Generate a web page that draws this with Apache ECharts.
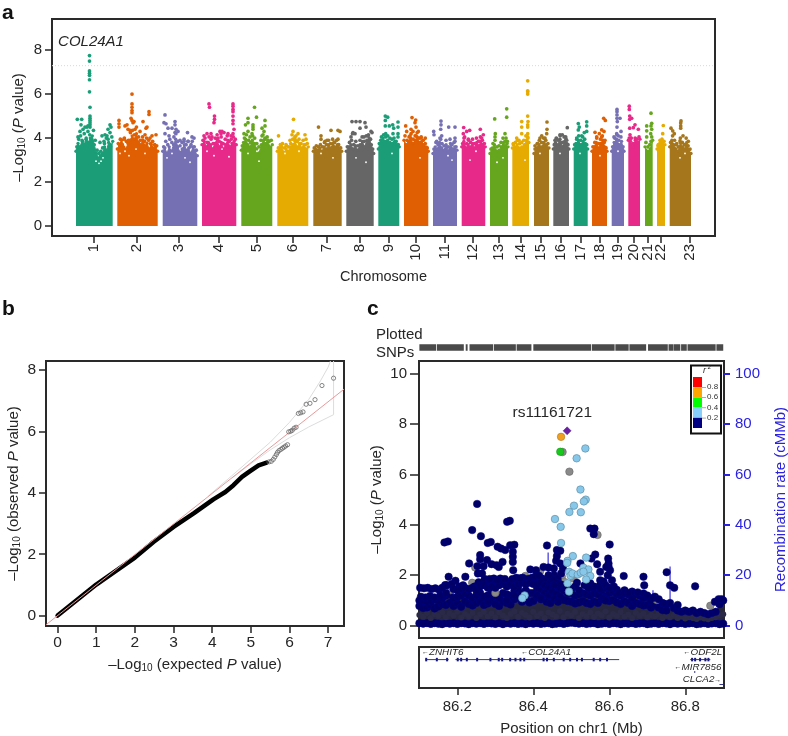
<!DOCTYPE html>
<html><head><meta charset="utf-8">
<style>html,body{margin:0;padding:0;background:#fff}#c{width:788px;height:736px}</style>
<script src="https://cdn.jsdelivr.net/npm/echarts@6/dist/echarts.min.js"></script></head>
<body><div id="c"></div>
<script>
const FONT='"Liberation Sans",Arial,sans-serif', INK='#262626', BLUE='#2a22e0';
/* ---------- panel a: Manhattan ---------- */
const chrNames=['1','2','3','4','5','6','7','8','9','10','11','12','13','14','15','16','17','18','19','20','21','22','23'];
const chrTicks=[94,137,179,219,257,293,327,360,389,416,445,473,499,521,541,561,581,600,618,634,648,661,690];
const chrStart=[76,117.3,162.7,202,241.3,277.3,313.3,346.3,378.3,404,433,461.7,490,512.3,534,553.3,573.7,592,611.7,628.3,645,657,669.7];
const chrEnd=[112.7,157.7,197.3,236.3,272.3,308.3,341.7,373.7,399.3,428.3,457,485.3,508,529,549,569,587.7,607,624,640,652.7,665,691];
const chrColors=['#1B9E77','#DF5F02','#7570B3','#E7298A','#66A61E','#E6AB02','#A6761D','#666666'];
const chrTops=[
[3.4,3.75,3.6,3.9,3.7,4.0,3.8,4.0,4.1,3.7,3.3,3.1,3.2,3.3,3.6,3.45,3.8,3.6,3.85],
[3.5,3.7,3.9,3.6,3.5,3.75,3.9,4.1,3.95,4.2,3.8,3.7,3.9,3.65,3.75,3.5,3.7,3.55,3.6,3.4],
[3.4,3.55,3.3,3.6,3.4,3.7,3.95,3.6,3.35,3.5,3.7,3.45,3.55,3.3,3.6,3.4,3.2],
[3.7,3.85,3.6,3.8,3.7,3.5,3.75,3.95,3.6,3.8,3.5,3.7,3.9,3.6,3.75,3.85,3.7],
[3.45,3.8,3.95,3.7,3.6,3.9,3.75,3.5,3.3,3.7,3.9,3.75,3.85,3.6,3.7],
[3.4,3.55,3.6,3.35,3.5,3.4,3.6,3.7,3.85,3.6,3.75,3.55,3.7,3.5,3.6],
[3.4,3.5,3.45,3.55,3.4,3.6,3.5,3.7,3.55,3.75,3.6,3.7,3.55,3.4],
[3.4,3.6,3.7,3.5,3.65,3.45,3.7,3.85,3.6,3.9,4.0,3.7,3.3],
[3.5,3.9,4.0,3.85,3.9,3.8,3.75,3.85,3.7,3.6],
[3.9,3.7,3.85,4.0,3.75,3.9,4.05,3.8,3.85,3.7,3.6,3.4],
[3.3,3.6,3.5,3.8,3.55,3.45,3.7,3.4,3.75,3.5,3.6,3.45],
[3.6,3.85,3.55,3.7,3.6,3.75,3.55,3.8,3.65,3.85,3.7,3.6],
[3.3,3.55,3.7,3.4,3.45,3.6,3.8,3.65,3.6],
[3.55,3.6,3.7,3.55,3.6,3.7,3.9,3.8],
[3.3,3.55,3.7,3.6,3.8,3.7,3.55],
[3.5,3.8,3.7,3.95,3.6,3.85,3.75,3.5],
[3.5,3.75,3.9,3.7,3.85,3.75,3.5],
[3.4,3.6,3.8,3.55,3.75,3.9,3.6,3.4],
[3.4,3.8,3.95,3.7,3.85,3.4],
[3.9,3.85,3.6,3.9,3.8,3.95],
[3.6,3.4,3.5,3.9],
[3.5,3.75,3.8,3.7],
[3.6,3.9,3.7,3.5,3.4,3.8,3.6,3.5,3.8,3.45,3.3]];
const chrFringe=[
[3.6,3.95,4.1,3.85,4.2,3.95,4.3,4.15,3.85,4.35,3.9,3.45,3.3,3.4,3.55,3.75,4,3.95,3.7,4.05],
[3.75,3.95,3.7,4,3.85,3.9,4.25,4.35,4.15,4.5,4.05,3.9,4.05,3.85,4,3.9,3.75,3.85,3.7,3.65],
[3.6,3.85,3.7,3.95,3.8,4.05,4.2,3.85,3.65,3.8,3.95,3.7,3.85,3.6,3.85,3.6,3.45],
[3.9,4,3.8,4.05,3.95,3.75,4,4.15,3.85,4.05,3.75,3.95,4.1,3.85,3.95,4.05,3.95],
[3.65,4,4.15,3.9,3.8,4.1,4,3.75,3.6,3.9,4.15,3.95,4.05,3.85,3.9],
[3.55,3.7,3.75,3.55,3.65,3.6,3.75,3.95,4.05,3.85,3.95,3.75,3.9,3.7,3.75],
[3.55,3.65,3.6,3.7,3.6,3.8,3.7,3.9,3.75,3.95,3.8,3.9,3.7,3.55],
[3.6,3.8,3.9,3.7,3.85,3.65,3.9,4.05,3.85,4.1,4.15,3.95,3.5],
[3.75,4.05,4.15,4.05,4.1,4,3.95,4,3.85,3.7],
[4.1,3.9,4.05,4.2,3.95,4.1,4.25,4,4.05,3.9,3.75,3.55],
[3.5,3.8,3.7,4,3.75,3.65,3.9,3.6,3.95,3.7,3.8,3.6],
[3.75,4.05,3.75,3.9,3.8,3.95,3.75,4,3.85,4.05,3.9,3.75],
[3.5,3.75,3.9,3.6,3.65,3.8,4,3.85,3.75],
[3.7,3.8,3.9,3.75,3.8,3.9,4.1,4],
[3.5,3.75,3.9,3.8,4,3.9,3.75],
[3.7,4,3.9,4.1,3.8,4.05,3.95,3.7],
[3.7,3.95,4.1,3.9,4.05,3.95,3.7],
[3.6,3.8,4,3.75,3.95,4.1,3.8,3.55],
[3.6,4,4.15,3.9,4.05,3.6],
[4,4,3.75,4,3.95,4.05],
[3.8,3.6,3.7,4.05],
[3.65,3.9,3.95,3.85],
[3.8,4.1,3.9,3.7,3.6,4,3.8,3.7,4,3.65,3.5]];
const chrHits=[
[[89.5,7.75],[89.5,7.5],[89.5,7.05],[89.5,6.95],[89.5,6.85],[89.5,6.65],[89.5,6.1],[90,5.4],[90,5],[90,4.9],[90,4.8],[90,4.7],[90,4.6],[90,4.5],[77.3,4.85],[81.7,4.85],[81,4.6],[78,4.05],[80,4.3],[83,4.4],[85,4.5],[87,4.5],[88,4.55],[110,4.6],[111,4.5],[108,4.4],[110,4.25],[102,4.1],[105,4.15],[107,4.1],[100,3.8],[104,3.85]],
[[132,6],[132,5.55],[132,5.4],[132,5.25],[132,5.15],[149,5.2],[149,5.07],[119,4.8],[119,4.65],[119,4.5],[125,4.55],[128,4.4],[131,4.9],[132,4.8],[133,4.7],[134,4.75],[143,4.75],[146,4.45],[147,4.5],[140,4.3],[127,4.6],[124,3.95],[145,4.15],[152,4.1],[156,4.15],[150,4],[135,4.4],[130,4.35]],
[[165,5.05],[164,4.7],[166,4.65],[175,4.75],[175,4.6],[168,4.45],[172,4.45],[176,4.4],[165,4.2],[169,4.1],[175,4.25],[178,4.3],[187.5,4.25],[192,4.05],[194,4],[180,3.9],[184,3.85],[188,3.85],[191,3.7]],
[[209,5.55],[209.5,5.4],[214.5,5],[214.5,4.85],[214,4.7],[233,5.55],[233,5.45],[233,5.3],[233,5.2],[233,5],[233,4.8],[233,4.65],[234,4.4],[233,4.2],[204,4.1],[207,4.2],[211,4.2],[220,4.3],[222,4.3],[221,4.2],[224,4.25],[228,4.2],[231,4.1],[218,4],[212,4.05]],
[[254.5,5.4],[248,4.9],[256.5,4.95],[245.5,4.6],[248,4.7],[253,4.6],[253,4.5],[253,4.4],[265,4.8],[265,4.55],[264,4.3],[262,4.45],[244,4.2],[248,4.3],[252,4.2],[262,4.1],[265,4],[250,4.05],[268,3.9]],
[[293.5,4.85],[278.5,4.1],[290,3.9],[293,4.3],[292,4.15],[296,4.1],[298,4.2],[305,4.15],[306,3.95],[295,3.95],[297,3.85],[286,3.7],[281,3.65]],
[[318.5,4.5],[331,4.35],[338,4.35],[340,4.3],[321,4.1],[321,3.95],[327,3.9],[325,3.85],[334,3.8],[338,3.95]],
[[352,4.75],[356,4.75],[360,4.75],[365,4.7],[352.5,4.2],[355,4.2],[360,4.45],[366,4.5],[371,4.3],[351,4.05],[353,4.25],[364,4.05],[368,4.1],[372,4.25]],
[[385.3,5],[387.7,4.95],[385.3,4.8],[392.7,4.6],[398,4.73],[398,4.5],[385.3,4.55],[389.3,4.55],[393.7,4.45],[385.7,4.2],[393,4.2],[398,4.2],[398,4.05]],
[[412,4.93],[415.7,4.82],[415,4.7],[416,4.5],[405.7,4.55],[406.7,4.3],[411,4.4],[413,4.3],[418.3,4.3],[425.3,4],[410,4.1],[416,4.1],[421,4]],
[[441,4.77],[441,4.6],[440.7,4.4],[448.7,4.5],[455,4.5],[433.7,4.3],[434,4.15],[441.7,4.1],[440.7,3.95],[455,4],[455,3.85],[436.7,3.85]],
[[463.7,4.48],[469.7,4.35],[466.7,4.3],[480.3,4.4],[463.3,4.2],[464,4],[483.3,4.15],[481.7,4],[479.3,3.85],[468.3,3.95]],
[[506.7,5.33],[506.7,4.95],[494.7,4.87],[495.3,4.2],[495,4.05],[505,4.2],[506,4],[507.3,3.85]],
[[527.7,6.6],[527.7,6.15],[527.7,6.1],[527.7,6],[527.7,5],[521.7,4.75],[528,4.75],[527.7,4.6],[527.7,4.5],[521.7,4.5],[521.7,4.2],[527.7,4.2],[527.7,4.05],[516.7,4],[513.3,3.75],[519,3.9],[526.7,3.9]],
[[547,4.73],[547,4.4],[546.7,4.2],[540,4],[537.7,3.75],[535,3.65],[545,4],[541.7,4.1]],
[[567.3,4.47],[565.7,4.05],[560,4.15],[556.7,3.98],[555,3.9],[566.7,3.9],[562.3,4.15]],
[[586.7,4.74],[586.7,4.55],[578.3,4.66],[579.3,4.5],[578.3,4.37],[584.3,4.25],[586.7,4.3],[576.7,4],[581.7,4.1]],
[[603.7,4.9],[605.3,4.8],[595,4.26],[601.7,4.37],[604,4.3],[599.3,4.2],[596.7,4.05],[601.7,4.05],[605,3.9]],
[[617,5.3],[617,5.2],[617,5.05],[617,4.9],[617.3,4.75],[620,4.9],[621,4.3],[617,4.5],[614,4.05],[616.7,4.2],[618.3,4.1]],
[[629.3,5.45],[629.3,5.3],[629.7,5],[631.7,4.9],[629.7,4.85],[635,4.6],[629.7,4.45],[638.3,4.4],[633.3,4.47],[630,4.15],[630.7,4]],
[[651,5.13],[651.7,4.67],[651,4.55],[651.7,4.4],[646.7,4.55],[646.7,4.33],[650.7,4.2],[646.7,4.05],[651,3.85]],
[[663.3,4.57],[662.7,4.2],[661,3.85],[658.3,3.7]],
[[681,4.78],[680.7,4.68],[680.7,4.55],[680.7,4.45],[671,4.45],[672.7,4.33],[674.3,4.2],[683,4.1],[680,3.87],[688.3,3.85],[676.7,3.75],[685,3.7]]];
const topLabel=[[91,8.36,'COL24A1']];
const gwLine=[[52,7.29],[715,7.29]];
const specks=[[96,2.95],[99,2.85],[101,2.95],[103,3.1],[120,3.3],[125,3.4],[129,3.2],[136,3.5],[145,3.3],[167,3.1],[172,3.3],[185,3.1],[190,2.9],[207,3.4],[214,3.2],[222,3.5],[229,3.15],[259,2.95],[257,3.4],[248,3.3],[285,3.3],[299,3.4],[321,3.3],[333,3.1],[356,3.1],[366,2.9],[392,3.3],[420,3.1],[448,3.2],[452,3],[470,3],[476,3.4],[497,2.9],[503,3.1],[525,3],[540,3.3],[560,3.3],[580,3.3],[600,3.2],[618,3.4],[680,3.1],[685,3.3]];
/* ---------- panel b: QQ ---------- */
const qqDense=[[0,0],[1,1.01],[2,1.89],[2.48,2.4],[3,2.89],[3.52,3.33],[4.03,3.79],[4.34,4.03],[4.55,4.25],[4.77,4.52],[4.98,4.71],[5.2,4.9],[5.41,4.99]];
const qqTail=[[7.14,7.74],[6.84,7.5],[6.66,7.04],[6.53,6.92],[6.43,6.89],[6.35,6.64],[6.29,6.61],[6.23,6.59],[6.17,6.14],[6.12,6.11],[6.07,6.04],[6.03,6.01],[5.98,5.99],[5.95,5.57],[5.9,5.53],[5.86,5.49],[5.82,5.46],[5.78,5.42],[5.73,5.38],[5.69,5.32],[5.66,5.25],[5.62,5.17],[5.58,5.09],[5.53,5.03],[5.47,5.01]];
const qqDiag=[[-0.3,-0.3],[7.41,7.38]];
const qqUpper=[[3.9,3.9],[4.5,4.55],[5,5.1],[5.5,5.65],[6,6.3],[6.5,7.05],[6.8,7.65],[7,8.1],[7.06,8.3]];
const qqLower=[[4.5,4.47],[5,4.95],[5.5,5.4],[6,5.8],[6.5,6.15],[7.14,6.55],[7.14,8.3]];
/* ---------- panel c: regional plot ---------- */
const bandX=[];for(let i=0;i<=80;i++)bandX.push(+(86.1+i*0.01).toFixed(2));
const bandTop=[1,1,.95,1,1.05,1,1.1,1.2,1.25,1.1,1.15,1.2,1.3,1.2,1.1,1.2,1.3,1.15,1.2,1.35,1.2,1.1,1.3,1.25,1.2,1.4,1.5,1.3,1.4,1.3,1.3,1.5,1.45,1.6,1.8,1.9,1.7,1.5,1.4,1.3,1.3,1.2,1.25,1.3,1.25,1.2,1.3,1.25,1.4,1.5,1.3,1.35,1.25,1.2,1.3,1.25,1.1,1.25,1.2,1.1,1.15,1,1.15,1,.9,.85,.9,.7,.6,.55,.6,.55,.6,.5,.55,.5,.45,.5,.55,.85,1];
const bandLow=[.1,.08,.1,.07,.1,.08,.06,.1,.08,.1,.07,.1,.09,.06,.1,.08,.1,.07,.1,.09,.07,.1,.06,.1,.08,.1,.07,.09,.06,.1,.08,.1,.07,.09,.1,.06,.08,.1,.07,.1,.12,.1,.08,.1,.07,.09,.1,.06,.08,.1,.07,.1,.09,.06,.1,.08,.1,.07,.09,.1,.06,.08,.1,.07,.1,.09,.06,.1,.08,.1,.07,.09,.1,.06,.08,.1,.07,.09,.1,.06,.08];
const bandMid=[.42,.35,.5,.3,.45,.38,.52,.33,.48,.4,.55,.32,.46,.37,.5,.3,.44,.55,.36,.48,.33,.52,.4,.3,.46,.56,.35,.5,.42,.32,.55,.38,.48,.3,.52,.44,.36,.58,.33,.47,.4,.54,.3,.45,.37,.52,.34,.48,.41,.56,.32,.46,.38,.53,.35,.44,.3,.5,.38,.47,.33,.42,.36,.46,.3,.4,.34,.42,.3,.36,.28,.33,.3,.26,.32,.28,.25,.3,.33,.4,.45];
const bandHigh=[.78,.7,.72,.8,.68,.76,.85,.82,.9,.78,.88,.75,.95,.86,.8,.9,.98,.82,.88,1,.86,.78,.96,.9,.84,1.05,1.15,.95,1.05,.92,.98,1.15,1.05,1.25,1.4,1.5,1.3,1.12,1.02,.98,.95,.88,.92,.98,.9,.86,.95,.9,1.05,1.15,.98,1.02,.92,.86,.96,.9,.78,.9,.86,.8,.82,.72,.82,.72,.62,.6];
const navyPts=[[86.252,4.83],[86.166,3.3],[86.175,3.34],[86.239,3.79],[86.262,3.55],[86.28,3.28],[86.288,3.32],[86.331,4.12],[86.338,4.16],[86.436,3.18],[86.306,3.13],[86.315,3.06],[86.326,3],[86.339,3.19],[86.35,3.21],[86.346,2.93],[86.346,2.73],[86.346,2.53],[86.26,2.8],[86.26,2.63],[86.231,2.47],[86.253,2.36],[86.269,2.36],[86.278,2.6],[86.29,2.44],[86.303,2.4],[86.309,2.33],[86.319,2.53],[86.347,2.2],[86.254,2.07],[86.265,2.07],[86.177,1.94],[86.221,1.94],[86.195,1.78],[86.168,1.61],[86.296,1.87],[86.313,1.87],[86.331,1.74],[86.392,2.23],[86.407,2.2],[86.427,2.33],[86.44,2.31],[86.454,2.27],[86.462,3],[86.471,2.97],[86.462,2.76],[86.46,2.57],[86.471,2.47],[86.478,2.27],[86.473,2.07],[86.515,1.7],[86.524,2.47],[86.55,3.85],[86.561,3.85],[86.559,3.63],[86.601,3.22],[86.563,2.82],[86.553,2.66],[86.597,2.66],[86.598,2.47],[86.598,2.35],[86.568,2.44],[86.592,2.33],[86.576,2.14],[86.602,2.2],[86.596,2],[86.576,1.8],[86.576,1.6],[86.607,1.8],[86.55,1.68],[86.547,1.48],[86.638,1.97],[86.69,1.94],[86.692,1.6],[86.69,1.28],[86.751,2.12],[86.76,1.6],[86.771,1.5],[86.826,1.56],[86.743,.88],[86.78,.82],
[86.102,1.5],[86.112,1.48],[86.122,1.5],[86.132,1.45],[86.142,1.48],[86.152,1.42],[86.16,1.5],[86.172,1.6],[86.185,1.65],[86.205,1.55],[86.215,1.6],[86.104,1.15],[86.116,1.12],[86.128,1.18],[86.14,1.12],[86.155,1.2],[86.17,1.3],[86.245,1.55],[86.256,1.72],[86.272,1.85],[86.283,1.75],[86.3,1.65],[86.322,1.65],[86.335,1.6],[86.348,1.7],[86.36,1.8],[86.372,1.9],[86.385,1.85],[86.396,1.9],[86.41,1.85],[86.422,1.88],[86.434,1.82],[86.445,1.7],[86.455,2],[86.464,1.85],[86.48,1.6],[86.51,1.55],[86.535,1.6],[86.56,1.55],[86.585,1.75],[86.62,1.42],[86.64,1.4],[86.66,1.35],[86.675,1.32],[86.7,1.2],[86.715,1.1],[86.73,1.05],[86.612,1.55],[86.625,1.3],[86.878,.95],[86.888,1.05],[86.896,1.05],
[86.19,1.45],[86.2,1.4],[86.21,1.45],[86.22,1.5],[86.23,1.45],[86.24,1.5],[86.25,1.4],[86.26,1.55],[86.27,1.6],[86.28,1.5],[86.29,1.55],[86.3,1.5],[86.31,1.6],[86.32,1.75],[86.33,1.55],[86.34,1.65],[86.35,1.55],[86.36,1.65],[86.37,1.7],[86.38,1.65],[86.39,1.7],[86.4,1.65],[86.41,1.65],[86.42,1.7],[86.43,1.6],[86.44,1.5],[86.45,1.85],[86.46,1.7],[86.47,1.65],[86.285,1.85],[86.305,1.8],[86.325,1.85],[86.345,1.85],[86.355,1.9],[86.365,1.88],[86.405,1.95],[86.415,1.98],[86.44,2],[86.455,1.6],[86.485,1.5],[86.5,1.45],[86.52,1.4],[86.545,1.5],[86.575,1.45],[86.59,1.6],[86.6,1.5],[86.64,1.3],[86.65,1.3],
[86.43,1.3],[86.44,1.2],[86.45,1.35],[86.46,1.25],[86.47,1.15],[86.435,.95],[86.445,.9],[86.455,1.05],[86.465,.95],[86.35,1.2],[86.41,1.2],[86.42,1.1],[86.33,1],[86.28,.95],[86.585,1.1],[86.59,1]];
const grayPts=[[86.477,6.89],[86.495,6.11],[86.569,3.6],[86.866,.79],[86.239,1.7],[86.247,2.31],[86.3,1.3],[86.182,1.41],[86.379,1.97],[86.418,2.16],[86.475,1.94],[86.506,1.87],[86.481,1.74],[86.725,1.02]];
const bluePts=[[86.537,7.03],[86.514,6.64],[86.524,5.4],[86.538,5],[86.533,4.93],[86.507,4.76],[86.495,4.51],[86.525,4.5],[86.457,4.23],[86.472,3.92],[86.473,3.28],[86.504,2.76],[86.539,2.7],[86.49,2.57],[86.489,2.49],[86.494,2.14],[86.498,1.98],[86.503,2.07],[86.517,2.03],[86.525,2.1],[86.532,2.3],[86.545,2.23],[86.532,2.14],[86.55,1.97],[86.539,1.83],[86.49,1.68],[86.494,1.35],[86.377,1.2],[86.371,1.09]];
const greenPts=[[86.471,6.9]], orangePts=[[86.473,7.49]], leadPts=[[86.489,7.73]];
const leadLabel=[[86.45,8.44,'rs11161721']];
const recombSpikes=[[86.439,29],[86.455,27],[86.715,14],[86.76,23.5]];
const snpRuns=[[86.1,86.144],[86.146,86.217],[86.222,86.227],[86.232,86.294],[86.296,86.354],[86.356,86.395],[86.4,86.552],[86.554,86.614],[86.616,86.651],[86.653,86.697],[86.702,86.754],[86.756,86.768],[86.769,86.787],[86.789,86.804],[86.806,86.88],[86.882,86.9]];
const geneRuns=[[86.116,86.177,12.6],[86.195,86.626,12.6],[86.813,86.866,12.6],[86.89,86.9,37.5],[86.825,86.825,24]];
const geneExons=[86.118,86.146,86.173,86.201,86.21,86.225,86.252,86.287,86.309,86.318,86.339,86.353,86.366,86.376,86.427,86.436,86.454,86.48,86.497,86.515,86.528,86.559,86.576,86.594,86.818,86.826,86.839,86.853,86.861];
const geneLabels=[[86.107,5.3,'{a|←}ZNHIT6','left'],[86.368,5.3,'{a|←}COL24A1','left'],[86.897,5.3,'{a|←}ODF2L','right'],[86.895,20,'{a|←}MIR7856','right'],[86.895,32.6,'CLCA2{a|→}','right']];
const ldLevels=['0.8','0.6','0.4','0.2'];
const ldColors=['#FF0000','#FFA500','#00FF00','#87CEFA','#000080'];

/* ---------- helpers ---------- */
const logRich={s:{fontSize:10,fontFamily:FONT,color:INK,padding:[7,0,0,0]},i:{fontSize:15,fontStyle:'italic',fontFamily:FONT,color:INK}};
const yAxis=[],xAxis=[],grid=[],series=[];
function mkX(i,min,max,ticks,o){xAxis.push(Object.assign({type:'value',gridIndex:i,min,max,splitLine:{show:false},axisLine:{show:false,onZero:false},nameMoveOverlap:false,
  axisTick:{show:true,customValues:ticks,length:7,lineStyle:{color:INK,width:1.5}},
  axisLabel:{show:true,customValues:ticks,color:INK,fontFamily:FONT,fontSize:15,margin:9}},o||{}));}
function mkY(i,min,max,ticks,o){yAxis.push(Object.assign({type:'value',gridIndex:i,min,max,splitLine:{show:false},axisLine:{show:false,onZero:false},nameMoveOverlap:false,
  axisTick:{show:true,customValues:ticks,length:7,lineStyle:{color:INK,width:1.5}},
  axisLabel:{show:true,customValues:ticks,color:INK,fontFamily:FONT,fontSize:15,margin:10}},o||{}));}
const box={show:true,borderColor:'#2a2a2a',borderWidth:2,backgroundColor:'transparent',outerBoundsMode:'none',containLabel:false};
// panel a
grid.push(Object.assign({left:52,top:19,width:663,height:217},box));
mkX(0,52,715,chrTicks,{name:'Chromosome',nameLocation:'middle',nameGap:33,nameTextStyle:{color:INK,fontFamily:FONT,fontSize:14.5}});
xAxis[0].axisLabel=Object.assign(xAxis[0].axisLabel,{rotate:90,margin:8,formatter:v=>chrNames[chrTicks.indexOf(v)]});
mkY(0,-0.45,9.41,[0,2,4,6,8],{name:'–Log{s|10} ({i|P} value)',nameLocation:'middle',nameGap:25,nameRotate:90,nameTextStyle:{color:INK,fontFamily:FONT,fontSize:15,rich:logRich}});
// panel b
grid.push(Object.assign({left:46,top:361,width:298,height:265},box));
mkX(1,-0.3,7.41,[0,1,2,3,4,5,6,7],{name:'–Log{s|10} (expected {i|P} value)',nameLocation:'middle',nameGap:30,nameTextStyle:{color:INK,fontFamily:FONT,fontSize:15,rich:logRich}});
xAxis[1].axisLabel.fontSize=15.5;
mkY(1,-0.34,8.3,[0,2,4,6,8],{name:'–Log{s|10} (observed {i|P} value)',nameLocation:'middle',nameGap:24,nameRotate:90,nameTextStyle:{color:INK,fontFamily:FONT,fontSize:15,rich:logRich}});
yAxis[1].axisLabel.fontSize=15.5;
// panel c main (grid 2)
grid.push(Object.assign({left:419,top:361,width:305,height:277},box));
mkX(2,86.099,86.902,[],{axisTick:{show:false},axisLabel:{show:false}});
mkY(2,-0.49,10.5,[0,2,4,6,8,10],{name:'–Log{s|10} ({i|P} value)',nameLocation:'middle',nameGap:34,nameRotate:90,nameTextStyle:{color:INK,fontFamily:FONT,fontSize:15,rich:logRich}});
yAxis[2].axisTick.length=9;yAxis[2].axisLabel.margin=12;
mkY(2,-4.9,105,[0,20,40,60,80,100],{position:'right',name:'Recombination rate (cMMb)',nameLocation:'middle',nameGap:49,nameRotate:90,nameTextStyle:{color:BLUE,fontFamily:FONT,fontSize:15}});
yAxis[3].axisTick={show:true,customValues:[0,20,40,60,80,100],length:6,lineStyle:{color:BLUE,width:2}};
yAxis[3].axisLabel=Object.assign(yAxis[3].axisLabel,{color:BLUE,margin:11});
// SNP strip (grid 3)
grid.push({left:419,top:344,width:305,height:7,show:false,outerBoundsMode:'none'});
mkX(3,86.099,86.902,[],{show:false});
mkY(3,0,2,[],{show:false});
// genes (grid 4)
grid.push(Object.assign({left:419,top:647,width:305,height:41},box));
mkX(4,86.099,86.902,[86.2,86.4,86.6,86.8],{name:'Position on chr1 (Mb)',nameLocation:'middle',nameGap:33,nameTextStyle:{color:INK,fontFamily:FONT,fontSize:15}});
xAxis[4].axisLabel.formatter=v=>v.toFixed(1);
xAxis[4].axisLabel.margin=11;
mkY(4,0,41,[],{inverse:true,axisTick:{show:false},axisLabel:{show:false}});

const base={animation:false,silent:true};
/* panel a series */
series.push(Object.assign({},base,{type:'line',xAxisIndex:0,yAxisIndex:0,data:gwLine,symbol:'none',lineStyle:{color:'#d8d8d8',width:1,type:[1,2]}}));
chrNames.forEach((n,i)=>{
  const col=chrColors[i%8], t=chrTops[i], f=chrFringe[i], s=chrStart[i], e=chrEnd[i];
  series.push(Object.assign({},base,{type:'line',xAxisIndex:0,yAxisIndex:0,z:2,
    data:t.map((v,k)=>[s+(e-s)*k/(t.length-1),v]),
    symbol:'circle',symbolSize:3.4,showSymbol:true,showAllSymbol:true,itemStyle:{color:col},
    lineStyle:{color:col,width:1},areaStyle:{color:col,opacity:1}}));
  series.push(Object.assign({},base,{type:'scatter',xAxisIndex:0,yAxisIndex:0,z:3,data:f.map((v,k)=>[s+(e-s)*(k+.5)/f.length,v]).concat(chrHits[i]),symbolSize:3.7,itemStyle:{color:col}}));
});
series.push(Object.assign({},base,{type:'scatter',xAxisIndex:0,yAxisIndex:0,z:4,data:specks,symbolSize:1.8,itemStyle:{color:'#fff'}}));
series.push(Object.assign({},base,{type:'scatter',xAxisIndex:0,yAxisIndex:0,z:5,data:topLabel.map(d=>({value:d.slice(0,2),name:d[2]})),symbolSize:0,
  label:{show:true,position:'inside',formatter:'{b}',color:INK,fontFamily:FONT,fontSize:15,fontStyle:'italic'}}));
/* panel b series */
series.push(Object.assign({},base,{type:'line',xAxisIndex:1,yAxisIndex:1,z:2,data:qqUpper,symbol:'none',lineStyle:{color:'#dcdcdc',width:1}}));
series.push(Object.assign({},base,{type:'line',xAxisIndex:1,yAxisIndex:1,z:2,data:qqLower,symbol:'none',lineStyle:{color:'#dcdcdc',width:1}}));
series.push(Object.assign({},base,{type:'line',xAxisIndex:1,yAxisIndex:1,z:3,data:qqDense,symbol:'none',lineStyle:{color:'#000',width:4.5,cap:'round',join:'round'}}));
series.push(Object.assign({},base,{type:'line',xAxisIndex:1,yAxisIndex:1,z:4,data:qqDiag,symbol:'none',lineStyle:{color:'#e79a9a',width:1}}));
series.push(Object.assign({},base,{type:'scatter',xAxisIndex:1,yAxisIndex:1,z:5,data:qqTail,symbolSize:4.2,itemStyle:{color:'rgba(255,255,255,0)',borderColor:'#666',borderWidth:.8}}));
/* panel c series */
const spikeData=[];recombSpikes.forEach(d=>{spikeData.push([d[0],0],[d[0],d[1]],[d[0],null]);});
const navy={color:'#000066',borderColor:'#000088',borderWidth:.5};
series.push(Object.assign({},base,{type:'line',xAxisIndex:2,yAxisIndex:3,z:2,data:spikeData,symbol:'none',connectNulls:false,lineStyle:{color:'#3a32e0',width:1.2}}));
series.push(Object.assign({},base,{type:'line',xAxisIndex:2,yAxisIndex:2,z:3,data:bandX.map((x,i)=>[x,bandTop[i]]),symbol:'none',lineStyle:{width:0},areaStyle:{color:'#26263f',opacity:1}}));
const rows=[bandLow,bandMid,bandHigh,bandTop];
rows.forEach((r,ri)=>{series.push(Object.assign({},base,{type:'scatter',xAxisIndex:2,yAxisIndex:2,z:4,data:r.map((v,i)=>[bandX[i],v]),symbolSize:ri==1?6:7.5,itemStyle:ri==1?{color:'#2a2a48'}:navy}));});
series.push(Object.assign({},base,{type:'scatter',xAxisIndex:2,yAxisIndex:2,z:5,data:grayPts,symbolSize:7.5,itemStyle:{color:'#8a8a8a',borderColor:'#666',borderWidth:.6}}));
series.push(Object.assign({},base,{type:'scatter',xAxisIndex:2,yAxisIndex:2,z:6,data:navyPts,symbolSize:7.5,itemStyle:navy}));
series.push(Object.assign({},base,{type:'scatter',xAxisIndex:2,yAxisIndex:2,z:7,data:bluePts,symbolSize:7.5,itemStyle:{color:'#87C8EA',borderColor:'#5f8fa8',borderWidth:.7}}));
series.push(Object.assign({},base,{type:'scatter',xAxisIndex:2,yAxisIndex:2,z:8,data:greenPts,symbolSize:7.5,itemStyle:{color:'#19c81e',borderColor:'#159a18',borderWidth:.6}}));
series.push(Object.assign({},base,{type:'scatter',xAxisIndex:2,yAxisIndex:2,z:8,data:orangePts,symbolSize:7.5,itemStyle:{color:'#F0A020',borderColor:'#a87a20',borderWidth:.6}}));
series.push(Object.assign({},base,{type:'scatter',xAxisIndex:2,yAxisIndex:2,z:8,data:leadPts,symbol:'diamond',symbolSize:8,itemStyle:{color:'#6a1fa0',borderColor:'#552288',borderWidth:.5}}));
series.push(Object.assign({},base,{type:'scatter',xAxisIndex:2,yAxisIndex:2,z:9,data:leadLabel.map(d=>({value:d.slice(0,2),name:d[2]})),symbolSize:0,
  label:{show:true,position:'inside',formatter:'{b}',color:INK,fontFamily:FONT,fontSize:15.5}}));
/* SNP strip */
const snpData=[];snpRuns.forEach(r=>{snpData.push([r[0],1],[r[1],1],[r[1],null]);});
series.push(Object.assign({},base,{type:'line',xAxisIndex:3,yAxisIndex:4,data:snpData,symbol:'none',connectNulls:false,lineStyle:{color:'#4a4a4a',width:6.5,cap:'butt'}}));
/* genes */
const geneData=[];geneRuns.forEach(r=>{geneData.push([r[0],r[2]],[r[1],r[2]===24?26:r[2]],[r[1],null]);});
series.push(Object.assign({},base,{type:'line',xAxisIndex:4,yAxisIndex:5,data:geneData,symbol:'none',connectNulls:false,lineStyle:{color:'#20207a',width:.9}}));
series.push(Object.assign({},base,{type:'scatter',xAxisIndex:4,yAxisIndex:5,data:geneExons.map(x=>[x,12.6]),symbol:'rect',symbolSize:[2,3.5],itemStyle:{color:'#18187a'}}));
geneLabels.forEach(g=>{series.push(Object.assign({},base,{type:'scatter',xAxisIndex:4,yAxisIndex:5,z:5,data:[{value:[g[0],g[1]],name:g[2]}],symbolSize:0,
  label:{show:true,position:'inside',align:g[3],verticalAlign:'middle',formatter:p=>p.name,color:INK,fontFamily:FONT,fontSize:9.8,fontStyle:'italic',rich:{a:{fontSize:7,fontFamily:FONT,color:INK}}}}));});
series.forEach(s=>{if(s.type==='scatter'){s.itemStyle=Object.assign({},s.itemStyle,{opacity:1});}});

/* letters, strip caption and r2 legend */
const letter=(t,x,y)=>({type:'text',left:x,top:y,style:{text:t,fontFamily:FONT,fontWeight:'bold',fontSize:21,fill:'#111'}});
const note=(t,x,y,sz,c,st)=>({type:'text',left:x,top:y,style:{text:t,fontFamily:FONT,fontSize:sz,fill:c||INK,fontStyle:st||'normal'}});
const graphic=[letter('a',2,3),letter('b',2,299),letter('c',367,299),note('Plotted',376,327,15),note('SNPs',376,345,15),
 {type:'rect',left:690,top:364.5,shape:{width:30,height:68},style:{fill:'#fff',stroke:'#111',lineWidth:2},z:50},
 note('r',703,366,9,INK,'italic'),note('2',707.5,364,6,INK,'normal')];
ldColors.forEach((c,i)=>{graphic.push({type:'rect',left:693,top:377+i*10.2,shape:{width:9,height:10.2},style:{fill:c},z:51});});
ldLevels.forEach((t,i)=>{graphic.push({type:'rect',left:702,top:387.2+i*10.2,shape:{width:4,height:.5},style:{fill:'#555'},z:51});
  graphic.push(Object.assign(note(t,707,383+i*10.2,8,'#333'),{z:51}));});
graphic.forEach(g=>{if(g.type==='text')g.z=60;});

const chart=echarts.init(document.getElementById('c'),null,{renderer:'canvas'});
chart.setOption({animation:false,backgroundColor:'#fff',textStyle:{fontFamily:FONT},grid,xAxis,yAxis,series,graphic});
</script></body></html>
